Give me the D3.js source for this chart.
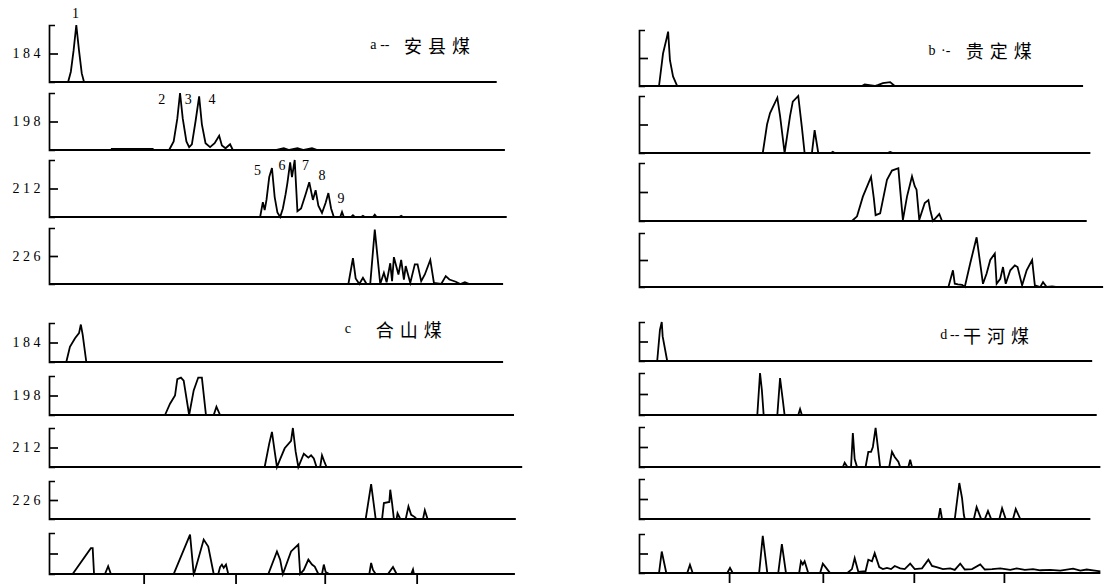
<!DOCTYPE html>
<html>
<head>
<meta charset="utf-8">
<script src="https://d3js.org/d3.v7.min.js"></script>
<style>
  body { margin: 0; background: #fff; }
  svg { display: block; }
  .mz { font-family: 'Liberation Serif', serif; font-size: 14px; letter-spacing: 3.5px; }
  .peak { font-family: 'Liberation Serif', serif; font-size: 14px; }
  .title { font-family: 'Noto Sans CJK SC', sans-serif; font-size: 18px; letter-spacing: 6px; }
  .letter { font-family: 'Liberation Serif', serif; font-size: 14px; }
  .trace { fill: none; stroke: #000; stroke-width: 1.8; stroke-linejoin: miter; }
  .base { stroke: #000; stroke-width: 1.8; }
</style>
</head>
<body>
<svg width="1105" height="586"></svg>
<script>
// mass chromatograms, [time (min), relative intensity %]
const a184 = [[2.1,0],[2.4,18],[2.7,55],[3.0,100],[3.3,55],[3.6,15],[3.85,0]];
const a198 = [[6.8,2],[11.4,2],[11.5,0],[13.2,0],[13.7,15],[14.1,55],[14.4,100],[14.7,55],[15.1,15],[15.4,5],[15.7,10],[16.1,50],[16.5,94],[16.8,45],[17.2,12],[17.7,5],[18.2,12],[18.7,25],[19.0,8],[19.4,3],[19.9,10],[20.2,0],[25.0,0],[25.8,3],[26.4,0],[27.3,3],[28.0,0],[28.9,3],[29.5,0]];
const a212 = [[23.2,0],[23.5,26],[23.7,12],[23.9,30],[24.2,70],[24.5,86],[24.8,35],[25.1,8],[25.4,0],[25.7,15],[26.0,40],[26.2,60],[26.5,96],[26.7,70],[27.0,100],[27.3,10],[27.7,15],[28.2,40],[28.6,61],[29.0,30],[29.3,47],[29.6,20],[30.0,7],[30.4,25],[30.7,42],[31.0,15],[31.3,0],[32.0,0],[32.2,9],[32.4,0],[33.2,0],[33.4,3],[33.6,0],[34.3,0],[34.5,2],[34.7,0],[35.6,0],[35.8,4],[36.0,0],[38.5,0],[38.7,2],[38.9,0]];
const a226 = [[32.9,0],[33.4,46],[33.7,10],[34.1,0],[34.5,11],[34.9,0],[35.3,0],[35.8,97],[36.4,0],[36.8,20],[37.1,3],[37.5,37],[37.7,5],[37.9,48],[38.4,17],[38.7,43],[39.0,8],[39.2,32],[39.7,2],[40.2,35],[40.5,35],[40.9,5],[41.3,17],[41.9,43],[42.3,2],[43.1,0],[43.6,14],[44.0,8],[44.7,4],[45.2,0],[45.7,3],[46.2,0]];

const b184 = [[2.2,0],[2.64,58],[3.08,88],[3.2,97],[3.4,46],[3.74,17],[4.2,0],[24.5,0],[24.8,3],[25.9,0],[26.3,2],[26.8,5],[27.6,7],[28.1,0]];
const b198 = [[13.6,0],[14.07,50],[14.4,70],[15.2,97],[15.5,65],[16.0,0],[16.6,65],[16.9,90],[17.5,100],[17.9,45],[18.2,0],[19.0,0],[19.3,40],[19.7,0],[21.1,0],[21.3,2],[21.5,0],[27.3,0],[27.6,2],[27.9,0]];
const b212 = [[23.4,0],[23.96,8],[24.6,42],[25.5,76],[25.8,40],[26.0,10],[26.5,13],[27.25,71],[27.8,87],[28.5,91],[28.7,54],[29.0,2],[29.45,42],[30.0,77],[30.3,60],[30.5,54],[30.8,2],[31.4,31],[31.8,36],[32.0,19],[32.3,0],[33.0,12],[33.3,0]];
const b226 = [[34.0,0],[34.5,31],[34.7,6],[35.05,5],[35.5,4],[35.8,0],[36.4,44],[37.1,92],[37.6,31],[37.8,6],[38.2,25],[38.6,50],[39.1,62],[39.3,6],[39.7,15],[40.0,37],[40.3,6],[40.8,31],[41.3,40],[41.6,37],[42.1,3],[42.6,31],[43.2,50],[43.5,3],[44.1,0],[44.4,9],[44.8,0],[45.4,1],[45.8,0]];

const c184 = [[1.9,0],[2.3,39],[2.86,61],[3.3,74],[3.5,96],[3.7,70],[4.1,0]];
const c198 = [[12.75,0],[13.3,29],[13.85,50],[14.1,92],[14.5,96],[14.8,88],[15.4,0],[15.9,63],[16.4,96],[16.8,96],[17.25,0],[18.1,0],[18.4,21],[18.8,0]];
const c212 = [[23.7,0],[24.2,60],[24.5,90],[24.8,40],[25.05,0],[25.4,20],[25.9,48],[26.6,67],[26.8,100],[27.1,40],[27.4,0],[28.0,34],[28.5,24],[28.8,30],[29.1,22],[29.4,0],[29.8,0],[30.0,30],[30.3,11],[30.5,0]];
const c226 = [[34.8,0],[35.4,92],[35.9,0],[36.6,0],[36.8,42],[37.4,45],[37.5,77],[37.7,42],[37.9,0],[38.2,0],[38.3,15],[38.6,0],[39.2,0],[39.5,33],[39.8,11],[40.2,5],[40.4,0],[41.1,0],[41.3,23],[41.6,0]];
const cTic = [[2.6,0],[4.6,63],[4.8,63],[4.95,0],[6.15,0],[6.5,19],[6.8,0],[13.7,0],[15.5,96],[15.9,0],[16.0,5],[17.0,84],[17.5,67],[18.1,0],[18.6,0],[18.8,17],[19.0,23],[19.2,15],[19.45,23],[19.7,0],[24.1,0],[25.05,55],[25.4,35],[25.7,0],[26.6,55],[27.4,72],[27.6,0],[28.0,10],[28.5,35],[28.9,23],[29.2,18],[29.6,0],[30.0,0],[30.2,23],[30.4,5],[30.8,0],[35.2,0],[35.4,27],[35.6,10],[35.9,0],[37.25,0],[37.8,17],[38.2,0],[39.8,0],[40.0,11],[40.1,0]];

const d184 = [[2.0,0],[2.3,80],[2.5,100],[2.6,63],[3.1,0]];
const d198 = [[13.0,0],[13.3,100],[13.5,60],[13.7,0],[15.2,0],[15.5,88],[15.8,36],[16.0,0],[17.5,0],[17.7,14],[17.9,0]];
const d212 = [[22.4,0],[22.6,11],[22.9,0],[23.3,0],[23.5,85],[23.7,20],[23.96,0],[24.9,0],[25.2,38],[25.5,38],[25.7,50],[26.0,98],[26.5,0],[27.5,0],[27.8,38],[28.1,25],[28.5,13],[28.7,0],[29.6,0],[29.8,18],[30.0,0]];
const d226 = [[32.9,0],[33.1,27],[33.3,0],[34.7,0],[35.2,90],[35.5,52],[35.7,10],[35.8,0],[36.8,0],[37.1,30],[37.6,0],[38.0,0],[38.35,20],[38.7,0],[39.6,0],[39.9,27],[40.3,0],[41.1,0],[41.4,25],[41.9,0]];
const dTic = [[2.2,0],[2.5,55],[3.0,0],[5.3,0],[5.6,21],[5.9,0],[9.7,0],[10.0,13],[10.3,0],[13.2,0],[13.6,95],[14.1,0],[15.3,0],[15.7,74],[16.15,0],[17.6,0],[17.8,30],[18.0,22],[18.2,30],[18.6,0],[19.9,0],[20.2,24],[20.5,15],[21.0,0],[22.9,0],[23.4,10],[23.7,38],[24.1,3],[24.9,5],[25.2,34],[25.6,30],[25.9,51],[26.4,15],[26.8,10],[27.25,13],[27.7,10],[28.1,18],[28.7,12],[29.2,10],[29.8,24],[30.3,10],[31.1,12],[31.8,34],[32.2,18],[32.7,15],[33.4,10],[34.2,12],[34.7,8],[35.3,24],[35.8,9],[36.6,10],[37.5,22],[38.0,9],[38.8,10],[39.7,12],[40.8,8],[41.5,12],[42.4,8],[43.3,10],[44.1,7],[45.2,8],[46.3,6],[47.7,11],[48.5,6],[49.2,9],[50.1,6],[50.7,4]];

// unlabelled time ticks under the TIC traces
const ticksC = [10.4, 20.5, 30.3, 40.4];
const ticksD = [9.9, 20.2, 30.2, 40.1];

// peak numbers in panel a
const peakNames = ["1","2","3","4","5","6","7","8","9"];
const peakRow   = [0, 1, 1, 1, 2, 2, 2, 2, 2];
const peakTime  = [2.9, 12.4, 15.3, 17.9, 22.9, 25.6, 28.2, 30.0, 32.1];
const peakLevel = [121, 88, 88, 88, 82, 91, 91, 72, 32];

// panel titles
const titleLetters = ["a", "b", "c", "d"];
const titleDashes  = ["--", "·-", "", "--"];
const titleNames   = ["安县煤", "贵定煤", "合山煤", "干河煤"];

// layout of the four panels (pixel layout only)
const panels = [
  { x0: 49, labels: true, title: {row: 0, level: 65, tL: 35.3, tD: 36.9, tN: 39.0},
    rows: [
      {mz: "184", data: a184, top: 25, base: 82, end: 49.2},
      {mz: "198", data: a198, top: 93, base: 150, end: 50.1},
      {mz: "212", data: a212, top: 160, base: 217, end: 50.3},
      {mz: "226", data: a226, top: 228, base: 284, end: 49.9}
    ]},
  { x0: 639, labels: false, title: {row: 0, level: 64, tL: 31.8, tD: 33.7, tN: 35.9},
    rows: [
      {mz: "184", data: b184, top: 30, base: 86, end: 48.8},
      {mz: "198", data: b198, top: 96, base: 153, end: 49.6},
      {mz: "212", data: b212, top: 163, base: 221, end: 49.2},
      {mz: "226", data: b226, top: 233, base: 287, end: 51.0}
    ]},
  { x0: 49, labels: true, title: {row: 0, level: 85, tL: 32.5, tD: 34.0, tN: 35.9},
    rows: [
      {mz: "184", data: c184, top: 323, base: 362, end: 49.9},
      {mz: "198", data: c198, top: 376, base: 415, end: 51.1},
      {mz: "212", data: c212, top: 428, base: 467, end: 52.0},
      {mz: "226", data: c226, top: 481, base: 519, end: 51.3},
      {mz: "", data: cTic, top: 533, base: 574, end: 51.2, ticks: ticksC}
    ]},
  { x0: 639, labels: false, title: {row: 0, level: 67, tL: 33.1, tD: 34.7, tN: 35.6},
    rows: [
      {mz: "184", data: d184, top: 322, base: 361, end: 49.8},
      {mz: "198", data: d198, top: 373, base: 415, end: 50.3},
      {mz: "212", data: d212, top: 427, base: 467, end: 50.7},
      {mz: "226", data: d226, top: 479, base: 519, end: 49.6},
      {mz: "", data: dTic, top: 534, base: 573, end: 50.7, ticks: ticksD}
    ]}
];

const svg = d3.select("svg");

panels.forEach(function(p, pi) {
  const x = d3.scaleLinear().domain([0, 50]).range([p.x0, p.x0 + 455]);
  const ys = [];

  p.rows.forEach(function(r) {
    const y = d3.scaleLinear().domain([0, 100]).range([r.base, r.top]);
    ys.push(y);
    const g = svg.append("g");

    // baseline
    g.append("line").attr("class", "base")
      .attr("x1", x(0)).attr("x2", x(r.end))
      .attr("y1", y(0)).attr("y2", y(0));

    // bracket-style intensity axis
    const ax = g.append("g")
      .attr("transform", "translate(" + x(0) + ",0)")
      .call(d3.axisRight(y).tickValues([50]).tickSize(9).tickSizeOuter(6).tickFormat(""));
    ax.selectAll("path, line").attr("stroke", "#000").attr("stroke-width", 1.7);

    // trace
    const line = d3.line().x(d => x(d[0])).y(d => y(d[1]));
    g.append("path").datum(r.data).attr("class", "trace").attr("d", line);

    // m/z label
    if (p.labels && r.mz) {
      g.append("text").attr("class", "mz")
        .attr("x", x(0) - 5).attr("y", y(50))
        .attr("text-anchor", "end").attr("dominant-baseline", "central")
        .text(r.mz);
    }

    // time ticks under TIC
    if (r.ticks) {
      const bx = g.append("g")
        .attr("transform", "translate(0," + y(0) + ")")
        .call(d3.axisBottom(x).tickValues(r.ticks).tickSize(10).tickFormat(""));
      bx.select(".domain").remove();
      bx.selectAll("line").attr("stroke", "#000").attr("stroke-width", 1.8);
    }
  });

  // title
  const t = p.title, ty = ys[t.row](t.level);
  svg.append("text").attr("class", "letter")
    .attr("x", x(t.tL)).attr("y", ty).attr("dominant-baseline", "central")
    .text(titleLetters[pi]);
  svg.append("text").attr("class", "letter")
    .attr("x", x(t.tD)).attr("y", ty).attr("dominant-baseline", "central")
    .attr("text-anchor", "middle")
    .text(titleDashes[pi]);
  svg.append("text").attr("class", "title")
    .attr("x", x(t.tN)).attr("y", ty).attr("dominant-baseline", "central")
    .text(titleNames[pi]);

  // peak numbers (panel a only)
  if (pi === 0) {
    peakNames.forEach(function(n, i) {
      svg.append("text").attr("class", "peak")
        .attr("x", x(peakTime[i])).attr("y", ys[peakRow[i]](peakLevel[i]))
        .attr("text-anchor", "middle").attr("dominant-baseline", "central")
        .text(n);
    });
  }
});
</script>
</body>
</html>
